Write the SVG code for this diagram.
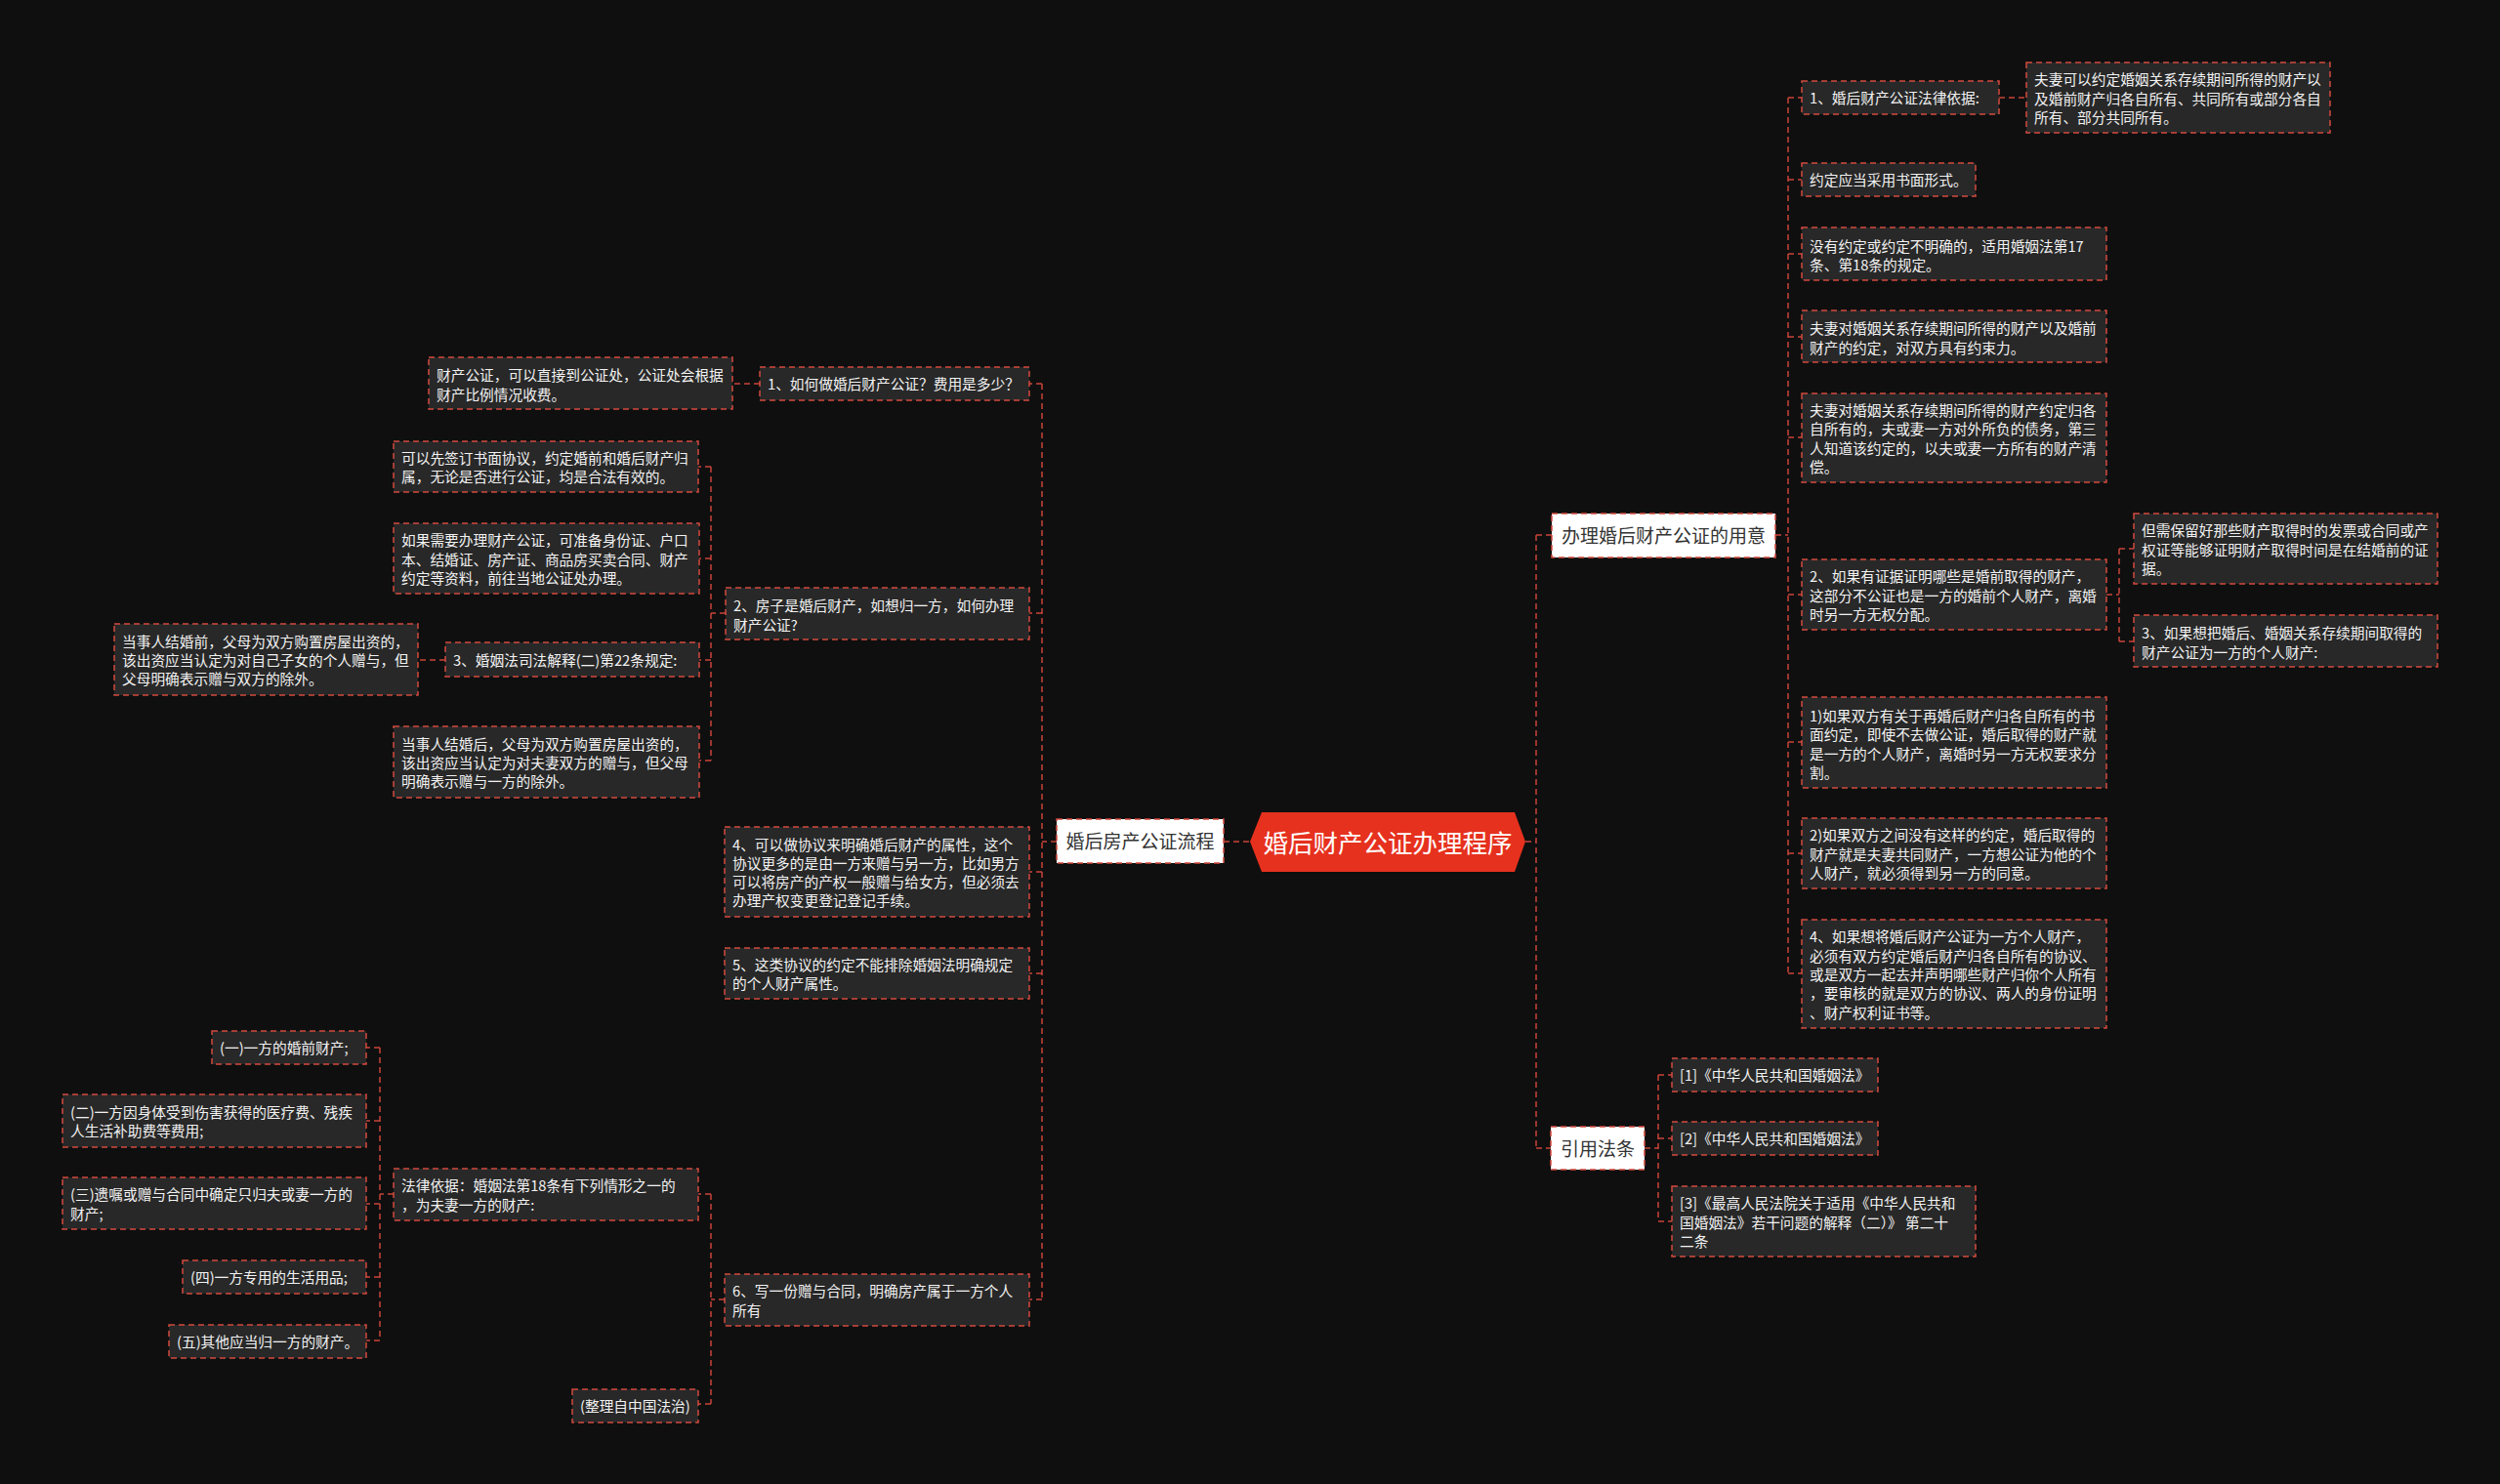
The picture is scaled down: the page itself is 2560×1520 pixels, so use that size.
<svg xmlns="http://www.w3.org/2000/svg" width="2560" height="1520" viewBox="0 0 2560 1520">
<style>
.leaf rect{fill:#282828;stroke:#d24a3e;stroke-width:1.5;stroke-dasharray:6 4}
.leaf text{fill:#f2f2f2;font-family:"Noto Sans CJK SC","Noto Sans",sans-serif;font-size:14.7px;dominant-baseline:central}
.sub rect{fill:#ffffff;stroke:#d24a3e;stroke-width:1.5;stroke-dasharray:6 4}
.sub text{fill:#333333;font-family:"Noto Sans CJK SC","Noto Sans",sans-serif;font-size:19px;dominant-baseline:central;text-anchor:middle}
.root polygon{fill:#e6311e}
.root text{fill:#ffffff;font-family:"Noto Sans CJK SC","Noto Sans",sans-serif;font-size:25.5px;dominant-baseline:central;text-anchor:middle}
.leaf text,.sub text,.root text{transform:translate(0px,-1.5px)}
.conn path{fill:none;stroke:#c9443a;stroke-width:1.5;stroke-dasharray:6 4}
</style>
<rect x="0" y="0" width="2560" height="1520" fill="#0f0f0f"/>
<g id="connectors" class="conn">
<path d="M1562 862H1573M1573 548V1176M1573 548H1589M1573 1176H1588"/>
<path d="M1818 548H1831M1831 100V997M1831 100H1845M1831 184H1845M1831 260H1845M1831 345H1845M1831 448H1845M1831 609H1845M1831 760H1845M1831 874H1845M1831 997H1845"/>
<path d="M2047 100H2075"/>
<path d="M2157 609H2170M2170 562V657M2170 562H2185M2170 657H2185"/>
<path d="M1684 1176H1698M1698 1101V1251M1698 1101H1712M1698 1166H1712M1698 1251H1712"/>
<path d="M1253 862H1280"/>
<path d="M1082 862H1067M1067 393V1331M1067 393H1054M1067 628H1054M1067 893H1054M1067 997H1054M1067 1331H1054"/>
<path d="M778 393H750"/>
<path d="M743 628H728M728 478V779M728 478H715M728 572H716M728 676H716M728 779H716"/>
<path d="M456 676H428"/>
<path d="M742 1331H728M728 1223V1438M728 1223H715M728 1438H715"/>
<path d="M403 1223H389M389 1073V1373M389 1073H375M389 1148H375M389 1233H375M389 1308H375M389 1373H375"/>
</g>
<g id="root" class="root">
<polygon points="1280,862 1292,832 1551,832 1562,862 1551,893 1292,893"/>
<text x="1421" y="863">婚后财产公证办理程序</text>
</g>
<g id="n-yongyi" class="sub"><rect x="1589" y="526" width="229" height="45"/><text x="1703.5" y="549">办理婚后财产公证的用意</text></g>
<g id="n-yinyong" class="sub"><rect x="1588" y="1154" width="96" height="44"/><text x="1636" y="1177">引用法条</text></g>
<g id="n-liucheng" class="sub"><rect x="1082" y="839" width="171" height="45"/><text x="1167.5" y="862">婚后房产公证流程</text></g>

<g id="r1" class="leaf"><rect x="1845" y="83" width="202" height="34"/><text x="1853" y="101">1、婚后财产公证法律依据:</text></g>
<g id="r1a" class="leaf"><rect x="2075" y="64" width="311" height="72"/><text x="2083"><tspan x="2083" y="81.7">夫妻可以约定婚姻关系存续期间所得的财产以</tspan><tspan x="2083" y="101">及婚前财产归各自所有、共同所有或部分各自</tspan><tspan x="2083" y="120.3">所有、部分共同所有。</tspan></text></g>
<g id="r2" class="leaf"><rect x="1845" y="167" width="178" height="34"/><text x="1853" y="185">约定应当采用书面形式。</text></g>
<g id="r3" class="leaf"><rect x="1845" y="233" width="312" height="54"/><text><tspan x="1853" y="252.4">没有约定或约定不明确的，适用婚姻法第17</tspan><tspan x="1853" y="271.7">条、第18条的规定。</tspan></text></g>
<g id="r4" class="leaf"><rect x="1845" y="318" width="312" height="53"/><text><tspan x="1853" y="336.9">夫妻对婚姻关系存续期间所得的财产以及婚前</tspan><tspan x="1853" y="356.2">财产的约定，对双方具有约束力。</tspan></text></g>
<g id="r5" class="leaf"><rect x="1845" y="403" width="312" height="91"/><text><tspan x="1853" y="420.6">夫妻对婚姻关系存续期间所得的财产约定归各</tspan><tspan x="1853" y="439.9">自所有的，夫或妻一方对外所负的债务，第三</tspan><tspan x="1853" y="459.2">人知道该约定的，以夫或妻一方所有的财产清</tspan><tspan x="1853" y="478.5">偿。</tspan></text></g>
<g id="r6" class="leaf"><rect x="1845" y="573" width="312" height="72"/><text><tspan x="1853" y="590.7">2、如果有证据证明哪些是婚前取得的财产，</tspan><tspan x="1853" y="610">这部分不公证也是一方的婚前个人财产，离婚</tspan><tspan x="1853" y="629.3">时另一方无权分配。</tspan></text></g>
<g id="r6a" class="leaf"><rect x="2185" y="526" width="311" height="72"/><text><tspan x="2193" y="543.7">但需保留好那些财产取得时的发票或合同或产</tspan><tspan x="2193" y="563">权证等能够证明财产取得时间是在结婚前的证</tspan><tspan x="2193" y="582.3">据。</tspan></text></g>
<g id="r6b" class="leaf"><rect x="2185" y="630" width="311" height="53"/><text><tspan x="2193" y="648.9">3、如果想把婚后、婚姻关系存续期间取得的</tspan><tspan x="2193" y="668.2">财产公证为一方的个人财产:</tspan></text></g>
<g id="r7" class="leaf"><rect x="1845" y="714" width="312" height="93"/><text><tspan x="1853" y="733.5">1)如果双方有关于再婚后财产归各自所有的书</tspan><tspan x="1853" y="752.8">面约定，即使不去做公证，婚后取得的财产就</tspan><tspan x="1853" y="772.1">是一方的个人财产，离婚时另一方无权要求分</tspan><tspan x="1853" y="791.4">割。</tspan></text></g>
<g id="r8" class="leaf"><rect x="1845" y="838" width="312" height="72"/><text><tspan x="1853" y="855.7">2)如果双方之间没有这样的约定，婚后取得的</tspan><tspan x="1853" y="875">财产就是夫妻共同财产，一方想公证为他的个</tspan><tspan x="1853" y="894.3">人财产，就必须得到另一方的同意。</tspan></text></g>
<g id="r9" class="leaf"><rect x="1845" y="942" width="312" height="111"/><text><tspan x="1853" y="959.9">4、如果想将婚后财产公证为一方个人财产，</tspan><tspan x="1853" y="979.2">必须有双方约定婚后财产归各自所有的协议、</tspan><tspan x="1853" y="998.5">或是双方一起去并声明哪些财产归你个人所有</tspan><tspan x="1853" y="1017.8">，要审核的就是双方的协议、两人的身份证明</tspan><tspan x="1853" y="1037.1">、财产权利证书等。</tspan></text></g>

<g id="c1" class="leaf"><rect x="1712" y="1084" width="211" height="34"/><text x="1720" y="1102">[1]《中华人民共和国婚姻法》</text></g>
<g id="c2" class="leaf"><rect x="1712" y="1149" width="211" height="34"/><text x="1720" y="1167">[2]《中华人民共和国婚姻法》</text></g>
<g id="c3" class="leaf"><rect x="1712" y="1215" width="311" height="72"/><text><tspan x="1720" y="1232.7">[3]《最高人民法院关于适用《中华人民共和</tspan><tspan x="1720" y="1252">国婚姻法》若干问题的解释（二）》 第二十</tspan><tspan x="1720" y="1271.3">二条</tspan></text></g>

<g id="l1" class="leaf"><rect x="778" y="376" width="276" height="34"/><text x="786" y="394">1、如何做婚后财产公证？费用是多少？</text></g>
<g id="l1a" class="leaf"><rect x="439" y="366" width="311" height="53"/><text><tspan x="447" y="384.9">财产公证，可以直接到公证处，公证处会根据</tspan><tspan x="447" y="404.2">财产比例情况收费。</tspan></text></g>
<g id="l2" class="leaf"><rect x="743" y="602" width="311" height="53"/><text><tspan x="751" y="620.9">2、房子是婚后财产，如想归一方，如何办理</tspan><tspan x="751" y="640.2">财产公证?</tspan></text></g>
<g id="l2a" class="leaf"><rect x="403" y="452" width="312" height="52"/><text><tspan x="411" y="469.4">可以先签订书面协议，约定婚前和婚后财产归</tspan><tspan x="411" y="488.7">属，无论是否进行公证，均是合法有效的。</tspan></text></g>
<g id="l2b" class="leaf"><rect x="403" y="536" width="313" height="72"/><text><tspan x="411" y="553.7">如果需要办理财产公证，可准备身份证、户口</tspan><tspan x="411" y="573">本、结婚证、房产证、商品房买卖合同、财产</tspan><tspan x="411" y="592.3">约定等资料，前往当地公证处办理。</tspan></text></g>
<g id="l2c" class="leaf"><rect x="456" y="658" width="260" height="35"/><text x="464" y="676.5">3、婚姻法司法解释(二)第22条规定:</text></g>
<g id="l2c1" class="leaf"><rect x="117" y="639" width="311" height="73"/><text><tspan x="125" y="657.2">当事人结婚前，父母为双方购置房屋出资的，</tspan><tspan x="125" y="676.5">该出资应当认定为对自己子女的个人赠与，但</tspan><tspan x="125" y="695.8">父母明确表示赠与双方的除外。</tspan></text></g>
<g id="l2d" class="leaf"><rect x="403" y="744" width="313" height="73"/><text><tspan x="411" y="762.2">当事人结婚后，父母为双方购置房屋出资的，</tspan><tspan x="411" y="781.5">该出资应当认定为对夫妻双方的赠与，但父母</tspan><tspan x="411" y="800.8">明确表示赠与一方的除外。</tspan></text></g>
<g id="l4" class="leaf"><rect x="742" y="847" width="312" height="92"/><text><tspan x="750" y="865">4、可以做协议来明确婚后财产的属性，这个</tspan><tspan x="750" y="884.3">协议更多的是由一方来赠与另一方，比如男方</tspan><tspan x="750" y="903.6">可以将房产的产权一般赠与给女方，但必须去</tspan><tspan x="750" y="922.9">办理产权变更登记登记手续。</tspan></text></g>
<g id="l5" class="leaf"><rect x="742" y="971" width="312" height="52"/><text><tspan x="750" y="988.4">5、这类协议的约定不能排除婚姻法明确规定</tspan><tspan x="750" y="1007.7">的个人财产属性。</tspan></text></g>
<g id="l6" class="leaf"><rect x="742" y="1305" width="312" height="53"/><text><tspan x="750" y="1322.9">6、写一份赠与合同，明确房产属于一方个人</tspan><tspan x="750" y="1342.2">所有</tspan></text></g>
<g id="l6a" class="leaf"><rect x="403" y="1197" width="312" height="53"/><text><tspan x="411" y="1214.9">法律依据：婚姻法第18条有下列情形之一的</tspan><tspan x="411" y="1234.2">，为夫妻一方的财产:</tspan></text></g>
<g id="l6b" class="leaf"><rect x="586" y="1423" width="129" height="34"/><text x="594" y="1441">(整理自中国法治)</text></g>
<g id="l6a1" class="leaf"><rect x="217" y="1056" width="158" height="34"/><text x="225" y="1074">(一)一方的婚前财产;</text></g>
<g id="l6a2" class="leaf"><rect x="64" y="1121" width="311" height="54"/><text><tspan x="72" y="1139.4">(二)一方因身体受到伤害获得的医疗费、残疾</tspan><tspan x="72" y="1158.7">人生活补助费等费用;</tspan></text></g>
<g id="l6a3" class="leaf"><rect x="64" y="1206" width="311" height="53"/><text><tspan x="72" y="1223.9">(三)遗嘱或赠与合同中确定只归夫或妻一方的</tspan><tspan x="72" y="1243.2">财产;</tspan></text></g>
<g id="l6a4" class="leaf"><rect x="187" y="1291" width="188" height="34"/><text x="195" y="1309">(四)一方专用的生活用品;</text></g>
<g id="l6a5" class="leaf"><rect x="173" y="1357" width="202" height="34"/><text x="181" y="1375">(五)其他应当归一方的财产。</text></g>
</svg>
